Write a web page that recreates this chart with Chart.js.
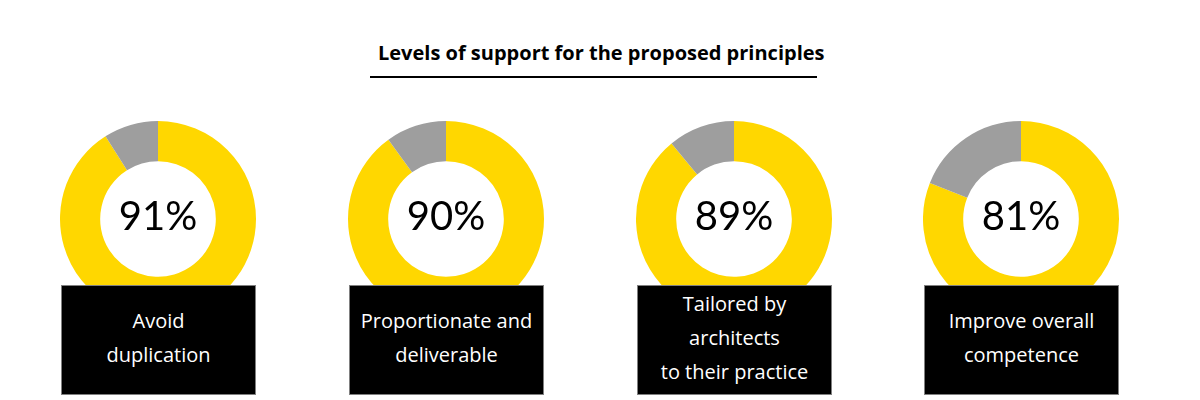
<!DOCTYPE html>
<html>
<head>
<meta charset="utf-8">
<script src="https://cdn.jsdelivr.net/npm/chart.js@4"></script>
<style>
  body { margin: 0; background: #fff; font-family: "Open Sans", Lato, sans-serif; }
  #wrap { position: relative; width: 1200px; height: 400px; overflow: hidden; }
  #title {
    position: absolute; left: 370px; top: 40px; width: 439px; padding-left: 8px;
    text-align: center; font-weight: bold; font-size: 20px; line-height: 26px; color: #000;
    padding-bottom: 10px; border-bottom: 2px solid #000; white-space: nowrap;
  }
  .pie { position: absolute; top: 121px; width: 196px; height: 196px; }
  .box {
    position: absolute; top: 285px; width: 193px; height: 104px;
    background: #000; border: 1px solid #808080; color: #fff;
    display: flex; flex-direction: column; justify-content: center; align-items: center;
    font-size: 20px; line-height: 34px; text-align: center; z-index: 2;
    padding-bottom: 4px; white-space: nowrap;
  }
</style>
</head>
<body>
<div id="wrap">
  <div id="title">Levels of support for the proposed principles</div>
</div>
<script>
const categories = [
  ["Avoid", "duplication"],
  ["Proportionate and", "deliverable"],
  ["Tailored by", "architects", "to their practice"],
  ["Improve overall", "competence"]
];
const support = [91, 90, 89, 81];
const centers = [158, 446, 734, 1021];

const wrap = document.getElementById("wrap");

// draws the percentage in the hole
const centerText = {
  id: "centerText",
  afterDraw(chart) {
    const arc = chart.getDatasetMeta(0).data[0];
    const ctx = chart.ctx;
    ctx.save();
    ctx.font = "40px Lato, 'Open Sans', sans-serif";
    ctx.fillStyle = "#000";
    ctx.textAlign = "center";
    ctx.textBaseline = "middle";
    ctx.fillText(chart.options.plugins.centerText.text, arc.x, arc.y - 2);
    ctx.restore();
  }
};

support.forEach((v, i) => {
  const canvas = document.createElement("canvas");
  canvas.className = "pie";
  canvas.style.left = (centers[i] - 98) + "px";
  canvas.width = 196;
  canvas.height = 196;
  wrap.appendChild(canvas);

  new Chart(canvas, {
    type: "doughnut",
    data: {
      labels: ["Support", "Other"],
      datasets: [
        {
          data: [v, 100 - v],
          backgroundColor: ["#FFD700", "#9E9E9E"],
          borderWidth: 0,
        },
      ],
    },
    options: {
      responsive: false,
      animation: false,
      cutout: "59%",
      layout: { padding: 0 },
      plugins: {
        legend: { display: false },
        tooltip: { enabled: false },
        centerText: { text: v + "%" },
      },
    },
    plugins: [centerText],
  });

  const box = document.createElement("div");
  box.className = "box";
  box.style.left = (centers[i] - 97) + "px";
  categories[i].forEach((line) => {
    const s = document.createElement("div");
    s.textContent = line;
    box.appendChild(s);
  });
  wrap.appendChild(box);
});
</script>
</body>
</html>
